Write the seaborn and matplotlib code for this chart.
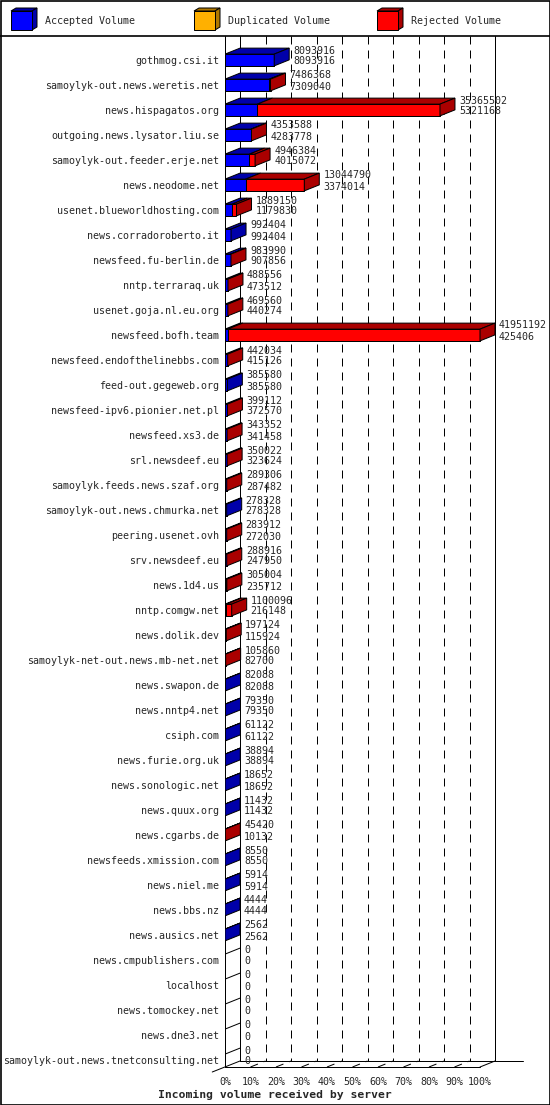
import seaborn as sns
import pandas as pd
import matplotlib.pyplot as plt
from matplotlib.patches import Polygon, Rectangle

# Incoming volume per server (innreport style)
servers = [
    "gothmog.csi.it", "samoylyk-out.news.weretis.net", "news.hispagatos.org",
    "outgoing.news.lysator.liu.se", "samoylyk-out.feeder.erje.net", "news.neodome.net",
    "usenet.blueworldhosting.com", "news.corradoroberto.it", "newsfeed.fu-berlin.de",
    "nntp.terraraq.uk", "usenet.goja.nl.eu.org", "newsfeed.bofh.team",
    "newsfeed.endofthelinebbs.com", "feed-out.gegeweb.org", "newsfeed-ipv6.pionier.net.pl",
    "newsfeed.xs3.de", "srl.newsdeef.eu", "samoylyk.feeds.news.szaf.org",
    "samoylyk-out.news.chmurka.net", "peering.usenet.ovh", "srv.newsdeef.eu",
    "news.1d4.us", "nntp.comgw.net", "news.dolik.dev",
    "samoylyk-net-out.news.mb-net.net", "news.swapon.de", "news.nntp4.net",
    "csiph.com", "news.furie.org.uk", "news.sonologic.net",
    "news.quux.org", "news.cgarbs.de", "newsfeeds.xmission.com",
    "news.niel.me", "news.bbs.nz", "news.ausics.net",
    "news.cmpublishers.com", "localhost", "news.tomockey.net",
    "news.dne3.net", "samoylyk-out.news.tnetconsulting.net",
]
total = [
    8093916, 7486368, 35365502, 4353588, 4946384, 13044790,
    1889150, 992404, 983990, 488556, 469560, 41951192,
    442034, 385580, 399112, 343352, 350022, 289306,
    278328, 283912, 288916, 305004, 1100096, 197124,
    105860, 82088, 79350, 61122, 38894, 18652,
    11432, 45420, 8550, 5914, 4444, 2562,
    0, 0, 0, 0, 0,
]
accepted = [
    8093916, 7309040, 5321168, 4283778, 4015072, 3374014,
    1179830, 992404, 907856, 473512, 440274, 425406,
    415126, 385580, 372570, 341458, 323624, 287482,
    278328, 272030, 247950, 235712, 216148, 115924,
    82700, 82088, 79350, 61122, 38894, 18652,
    11432, 10132, 8550, 5914, 4444, 2562,
    0, 0, 0, 0, 0,
]
duplicated = [
    0, 0, 0, 0, 0, 0, 0, 0, 0, 0, 0, 0, 0, 0, 0, 0, 0, 0, 0, 0,
    0, 0, 0, 0, 0, 0, 0, 0, 0, 0, 0, 0, 0, 0, 0, 0, 0, 0, 0, 0, 0,
]
percent_ticks = [0, 10, 20, 30, 40, 50, 60, 70, 80, 90, 100]
legend_names = ["Accepted Volume", "Duplicated Volume", "Rejected Volume"]

BLUE, BLUE_D = "#0000ff", "#0000aa"
ORANGE, ORANGE_D = "#ffb000", "#b07800"
RED, RED_D = "#ff0000", "#aa0000"

sns.set_style("white")
plt.rcParams["font.family"] = ["DejaVu Sans Mono"]
FS = 7.2
LW = 0.72

W, H = 550, 1105
fig = plt.figure(figsize=(W / 100, H / 100), dpi=100)

# background frame in pixel coordinates: border, legend strip
frame = fig.add_axes([0, 0, 1, 1])
frame.set_xlim(0, W)
frame.set_ylim(H, 0)
frame.axis("off")
frame.add_patch(Rectangle((0.5, 0.5), W - 1, H - 1, fill=False, ec="black", lw=1.2))
frame.plot([0, W], [36, 36], color="black", lw=1.2)

legend_x = [11, 194, 377]
for lx, name, fc, dc in zip(legend_x, legend_names, [BLUE, ORANGE, RED], [BLUE_D, ORANGE_D, RED_D]):
    fw, fh, ddx, ddy, ty = 21, 19, 5, 3, 11
    frame.add_patch(Polygon([(lx, ty), (lx + fw, ty), (lx + fw + ddx, ty - ddy), (lx + ddx, ty - ddy)],
                            closed=True, fc=dc, ec="black", lw=LW))
    frame.add_patch(Polygon([(lx + fw, ty), (lx + fw, ty + fh), (lx + fw + ddx, ty + fh - ddy),
                             (lx + fw + ddx, ty - ddy)], closed=True, fc=dc, ec="black", lw=LW))
    frame.add_patch(Rectangle((lx, ty), fw, fh, fc=fc, ec="black", lw=LW))
    frame.text(lx + 34, 21, name, fontsize=FS, va="center", ha="left")

# chart axes: front plane 0..100% spans 255 px, depth offset 15 px / 6 px
top_px, floor_px, row0_px, row_px = 36, 1067, 60, 25
ax = fig.add_axes([225 / W, 1 - floor_px / H, 270 / W, (floor_px - top_px) / H])
ax.patch.set_visible(False)

max_total = max(total)
df = pd.DataFrame({
    "server": servers,
    "total_pct": [t / max_total * 100 for t in total],
    "accdup_pct": [(a + d) / max_total * 100 for a, d in zip(accepted, duplicated)],
    "acc_pct": [a / max_total * 100 for a in accepted],
})

DX = 15 / 255 * 100
DY = 6 / row_px
BAR_H = 0.47

sns.barplot(data=df, y="server", x="total_pct", orient="h", color=RED, saturation=1,
            width=BAR_H, edgecolor="black", linewidth=LW, ax=ax)
sns.barplot(data=df, y="server", x="accdup_pct", orient="h", color=ORANGE, saturation=1,
            width=BAR_H, edgecolor="black", linewidth=LW, ax=ax)
sns.barplot(data=df, y="server", x="acc_pct", orient="h", color=BLUE, saturation=1,
            width=BAR_H, edgecolor="black", linewidth=LW, ax=ax)

y_top = (top_px - row0_px) / row_px
y_floor = (floor_px - row0_px) / row_px
y_floor_back = y_floor - DY
ax.set_xlim(0, 270 / 255 * 100)
ax.set_ylim(y_floor, y_top)

# walls, grid, floor
line_kw = dict(color="black", lw=LW, zorder=0.5, clip_on=False)
dash_kw = dict(color="black", lw=LW, zorder=0.5, clip_on=False, ls=(0, (8, 6)))
ax.plot([0, 0], [y_top, y_floor], **line_kw)
ax.plot([DX, DX], [y_top, y_floor_back], **line_kw)
ax.plot([100 + DX, 100 + DX], [y_top, y_floor_back], **line_kw)
for p in percent_ticks[1:-1]:
    ax.plot([p + DX, p + DX], [y_top, y_floor_back], **dash_kw)
    ax.plot([p, p + DX], [y_floor, y_floor_back], **dash_kw)
ax.plot([0, 100], [y_floor, y_floor], **line_kw)
ax.plot([DX, 100 + DX + 11], [y_floor_back, y_floor_back], **line_kw)
ax.plot([-5, DX], [y_floor + 0.2, y_floor_back], **line_kw)
ax.plot([100, 100 + DX], [y_floor, y_floor_back], **line_kw)

# 3D top and side faces, value labels
for i, row in df.iterrows():
    top = i - BAR_H / 2
    tot = row["total_pct"]
    if total[i] == 0:
        ax.plot([0, DX], [top, top - DY], color="black", lw=LW, zorder=3)
    else:
        segs = [(0, row["acc_pct"], BLUE_D), (row["acc_pct"], row["accdup_pct"], ORANGE_D),
                (row["accdup_pct"], tot, RED_D)]
        side = BLUE_D
        for a, b, c in segs:
            if b > a:
                ax.add_patch(Polygon([(a, top), (b, top), (b + DX, top - DY), (a + DX, top - DY)],
                                     closed=True, fc=c, ec="black", lw=LW, zorder=3))
                side = c
        ax.add_patch(Polygon([(tot, top), (tot, top + BAR_H), (tot + DX, top + BAR_H - DY),
                              (tot + DX, top - DY)], closed=True, fc=side, ec="black", lw=LW, zorder=3))
    tx = tot + DX + 4 / 255 * 100
    ax.text(tx, i - 0.38, str(total[i]), fontsize=FS, va="center", ha="left", zorder=4)
    ax.text(tx, i + 0.06, str(accepted[i]), fontsize=FS, va="center", ha="left", zorder=4)

for s in ax.spines.values():
    s.set_visible(False)
ax.set_xlabel("")
ax.set_ylabel("")
ax.set_xticks(percent_ticks, [f"{p}%" for p in percent_ticks])
ax.tick_params(axis="x", length=0, pad=7, labelsize=FS)
ax.tick_params(axis="y", length=0, pad=4, labelsize=FS)

fig.text(275 / W, 1 - 1095 / H, "Incoming volume received by server", ha="center", va="center",
         fontsize=8.2, fontweight="bold")

fig.savefig("out.png", dpi=100)
